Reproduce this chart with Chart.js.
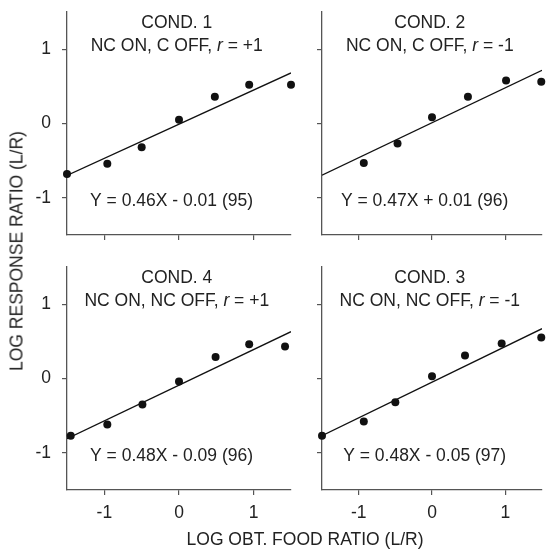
<!DOCTYPE html>
<html>
<head>
<meta charset="utf-8">
<script src="https://cdn.jsdelivr.net/npm/chart.js@4"></script>
<style>
  body { margin: 0; background: #fff; }
  #wrap { position: relative; width: 546px; height: 553px; font-family: "Liberation Sans", Arial, sans-serif; color: #222; }
  canvas { position: absolute; }
  .axtitle { position: absolute; font-size: 17.5px; white-space: nowrap; transform: translate(-50%, -50%); }
  #ytitle { transform: translate(-50%, -50%) rotate(-90deg); }
</style>
</head>
<body>
<div id="wrap">
  <canvas id="c1" width="300" height="255" style="left:0;top:0"></canvas>
  <canvas id="c2" width="246" height="255" style="left:300px;top:0"></canvas>
  <canvas id="c4" width="300" height="290" style="left:0;top:255px"></canvas>
  <canvas id="c3" width="246" height="290" style="left:300px;top:255px"></canvas>
  <div id="ytitle" class="axtitle" style="left:17px;top:251px">LOG RESPONSE RATIO (L/R)</div>
  <div id="xtitle" class="axtitle" style="left:305px;top:539px">LOG OBT. FOOD RATIO (L/R)</div>
</div>
<script>
'use strict';

// panel order: top-left, top-right, bottom-left, bottom-right
const condNames = ['COND. 1', 'COND. 2', 'COND. 4', 'COND. 3'];
const condLabels = ['NC ON, C OFF, ', 'NC ON, C OFF, ', 'NC ON, NC OFF, ', 'NC ON, NC OFF, '];
const rValues = ['+1', '-1', '+1', '-1'];

const slopes = [0.46, 0.47, 0.48, 0.48];
const intercepts = [-0.01, 0.01, -0.09, -0.05];
const fitPct = [95, 96, 96, 97];

const foodRatio1 = [-1.5, -0.96, -0.5, 0, 0.48, 0.94, 1.5];
const respRatio1 = [-0.68, -0.54, -0.32, 0.05, 0.36, 0.52, 0.52];
const foodRatio2 = [-0.93, -0.47, 0, 0.49, 1.01, 1.49];
const respRatio2 = [-0.53, -0.27, 0.085, 0.36, 0.58, 0.56];
const foodRatio4 = [-1.45, -0.96, -0.49, 0, 0.49, 0.94, 1.42];
const respRatio4 = [-0.77, -0.62, -0.35, -0.04, 0.29, 0.46, 0.43];
const foodRatio3 = [-1.5, -0.93, -0.5, 0, 0.45, 0.95, 1.49];
const respRatio3 = [-0.77, -0.58, -0.32, 0.03, 0.31, 0.47, 0.55];

const xTicks = [-1, 0, 1];
const yTicks = [-1, 0, 1];
const axisMin = -1.5, axisMax = 1.5;

const FONT = '"Liberation Sans", Arial, sans-serif';
const FSIZE = 17.5;
const ink = '#222';
const axisColor = '#555';

// draws text pieces side by side, centred on cx
function drawRuns(ctx, runs, cx, cy) {
  let total = 0;
  runs.forEach(r => { ctx.font = r[1] + FSIZE + 'px ' + FONT; total += ctx.measureText(r[0]).width; });
  let x = cx - total / 2;
  runs.forEach(r => {
    ctx.font = r[1] + FSIZE + 'px ' + FONT;
    ctx.textAlign = 'left';
    ctx.fillText(r[0], x, cy);
    x += ctx.measureText(r[0]).width;
  });
}

const panelText = {
  id: 'panelText',
  afterDraw(chart, args, opts) {
    const { ctx, scales: { x, y } } = chart;
    ctx.save();
    ctx.fillStyle = ink;
    ctx.textBaseline = 'middle';
    const cx = x.getPixelForValue(opts.cx);
    drawRuns(ctx, [[opts.cond, '']], cx, y.getPixelForValue(1.35));
    drawRuns(ctx, [[opts.label, ''], ['r', 'italic '], [' = ' + opts.r, '']], cx, y.getPixelForValue(1.04));
    drawRuns(ctx, [[opts.eq, '']], x.getPixelForValue(opts.ex), y.getPixelForValue(-1.05));
    ctx.restore();
  }
};

const panels = [
  { id: 'c1', xs: foodRatio1, ys: respRatio1, yW: 67, xH: 20, padR: 9, showY: true, showX: false },
  { id: 'c2', xs: foodRatio2, ys: respRatio2, yW: 22, xH: 20, padR: 2, showY: false, showX: false },
  { id: 'c4', xs: foodRatio4, ys: respRatio4, yW: 67, xH: 55, padR: 9, showY: true, showX: true },
  { id: 'c3', xs: foodRatio3, ys: respRatio3, yW: 22, xH: 55, padR: 2, showY: false, showX: true }
];

panels.forEach((p, i) => {
  const m = slopes[i], b = intercepts[i];
  const eq = 'Y = ' + m.toFixed(2) + 'X ' + (b < 0 ? '-' : '+') + ' ' + Math.abs(b).toFixed(2) + ' (' + fitPct[i] + ')';
  const ctx = document.getElementById(p.id).getContext('2d');

  new Chart(ctx, {
    type: 'scatter',
    data: {
      datasets: [
        {
          data: p.xs.map((v, k) => ({ x: v, y: p.ys[k] })),
          pointRadius: 4,
          pointBackgroundColor: '#111',
          pointBorderWidth: 0,
          clip: false
        },
        {
          data: [axisMin, axisMax].map(v => ({ x: v, y: m * v + b })),
          showLine: true,
          pointRadius: 0,
          borderColor: '#111',
          borderWidth: 1.3
        }
      ]
    },
    options: {
      responsive: false,
      animation: false,
      layout: { padding: { top: 12, right: p.padR, left: 0, bottom: 0 } },
      plugins: {
        legend: { display: false },
        tooltip: { enabled: false },
        panelText: { cond: condNames[i], label: condLabels[i], r: rValues[i], eq: eq, cx: -0.03, ex: -0.1 }
      },
      scales: {
        x: {
          type: 'linear',
          min: axisMin,
          max: axisMax,
          afterBuildTicks: s => { s.ticks = xTicks.map(v => ({ value: v })); },
          afterFit: s => { s.height = p.xH; s.paddingLeft = 0; s.paddingRight = 0; },
          ticks: { display: p.showX, color: ink, padding: 8, font: { family: FONT, size: FSIZE } },
          grid: { drawOnChartArea: false, tickLength: 5, color: axisColor, lineWidth: 1.2 },
          border: { color: axisColor, width: 1.3 }
        },
        y: {
          type: 'linear',
          min: axisMin,
          max: axisMax,
          afterBuildTicks: s => { s.ticks = yTicks.map(v => ({ value: v })); },
          afterFit: s => { s.width = p.yW; s.paddingTop = 0; s.paddingBottom = 0; },
          ticks: { display: p.showY, color: ink, padding: 11, font: { family: FONT, size: FSIZE } },
          grid: { drawOnChartArea: false, tickLength: 5, color: axisColor, lineWidth: 1.2 },
          border: { color: axisColor, width: 1.3 }
        }
      }
    },
    plugins: [panelText]
  });
});
</script>
</body>
</html>
